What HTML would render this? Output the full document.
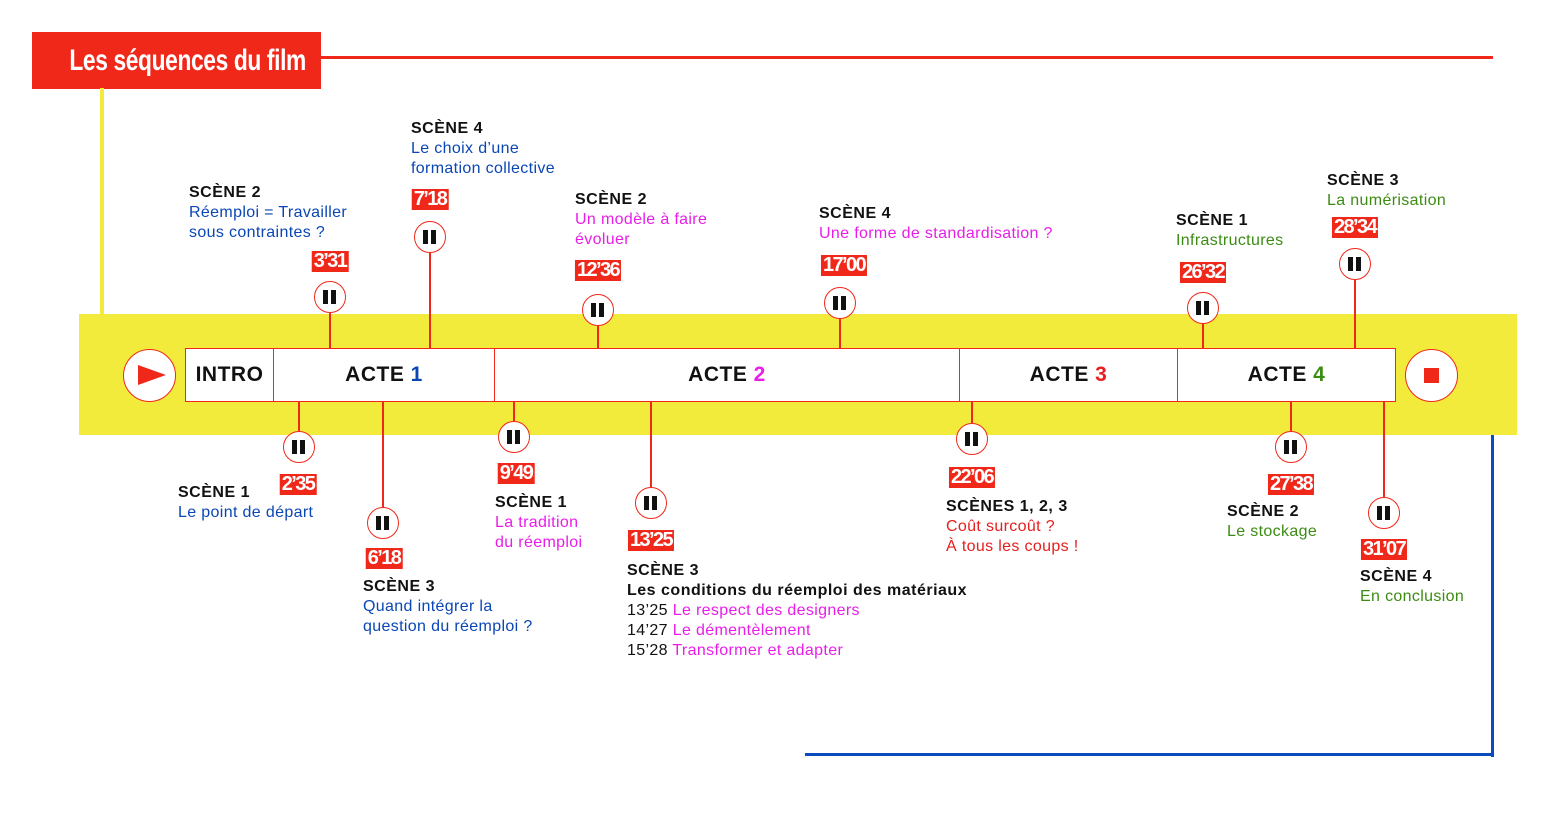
<!DOCTYPE html>
<html><head><meta charset="utf-8"><style>
body{margin:0;width:1560px;height:818px;background:#fff;position:relative;overflow:hidden;font-family:"Liberation Sans",sans-serif}
div{position:absolute;box-sizing:border-box}
.t{font-size:16px;line-height:20px;white-space:nowrap;color:#111;letter-spacing:0.35px}
.b{font-weight:bold;letter-spacing:0.5px}
.bl{color:#0a46b4}.mg{color:#e81ee8}.gr{color:#3c8c14}.rd{color:#e61e1e}
.tm{background:#f0281a;color:#fff;font-weight:bold;font-size:20px;line-height:21px;height:21px;padding:0 2px;letter-spacing:-1.6px;transform:translateX(-50%);white-space:nowrap}
.c{width:32px;height:32px;border:1.5px solid #f0281a;border-radius:50%;background:#fff;transform:translate(-50%,-50%)}
.c:before,.c:after{content:"";position:absolute;top:8px;width:5px;height:14px;background:#111}
.c:before{left:8px}.c:after{left:16px}
.vl{width:2px;background:#f0281a;transform:translateX(-1px)}
.act{top:348px;height:54px;border:1.5px solid #f0281a;background:#fff;font-weight:bold;font-size:21px;line-height:51px;text-align:center;color:#111;letter-spacing:0.5px}
</style></head><body>
<div style="left:32px;top:32px;width:289px;height:57px;background:#f0281a;color:#fff;font-weight:bold;font-size:30px;line-height:57px;text-align:center;white-space:nowrap;overflow:hidden"><span style="display:inline-block;transform:scaleX(0.76);letter-spacing:-0.5px">Les séquences du film</span></div>
<div style="left:320px;top:56px;width:1173px;height:3px;background:#f0281a"></div>
<div style="left:100px;top:88px;width:4px;height:226px;background:#f2eb3c"></div>
<div style="left:79px;top:314px;width:1438px;height:121px;background:#f2eb3c"></div>
<div style="left:1491px;top:435px;width:3px;height:322px;background:#0a4bbd"></div>
<div style="left:805px;top:753px;width:689px;height:3px;background:#0a4bbd"></div>

<div class="vl" style="left:330px;top:313px;height:35px"></div>
<div class="vl" style="left:430px;top:253px;height:95px"></div>
<div class="vl" style="left:598px;top:326px;height:22px"></div>
<div class="vl" style="left:840px;top:319px;height:29px"></div>
<div class="vl" style="left:1203px;top:324px;height:24px"></div>
<div class="vl" style="left:1355px;top:280px;height:68px"></div>
<div class="vl" style="left:299px;top:401px;height:30px"></div>
<div class="vl" style="left:383px;top:401px;height:106px"></div>
<div class="vl" style="left:514px;top:401px;height:20px"></div>
<div class="vl" style="left:651px;top:401px;height:86px"></div>
<div class="vl" style="left:972px;top:401px;height:22px"></div>
<div class="vl" style="left:1291px;top:401px;height:30px"></div>
<div class="vl" style="left:1384px;top:401px;height:96px"></div>

<div class="act" style="left:185px;width:89px">INTRO</div>
<div class="act" style="left:273px;width:222px">ACTE <span class="bl">1</span></div>
<div class="act" style="left:494px;width:466px">ACTE <span class="mg">2</span></div>
<div class="act" style="left:959px;width:219px">ACTE <span class="rd">3</span></div>
<div class="act" style="left:1177px;width:219px">ACTE <span class="gr">4</span></div>

<div style="left:123px;top:349px;width:53px;height:53px;border:1.5px solid #f0281a;border-radius:50%;background:#fff"></div>
<div style="left:138px;top:365px;width:0;height:0;border-top:10px solid transparent;border-bottom:10px solid transparent;border-left:28px solid #f0281a"></div>
<div style="left:1405px;top:349px;width:53px;height:53px;border:1.5px solid #f0281a;border-radius:50%;background:#fff"></div>
<div style="left:1424px;top:368px;width:15px;height:15px;background:#f0281a"></div>

<div class="c" style="left:330px;top:297px"></div>
<div class="c" style="left:430px;top:237px"></div>
<div class="c" style="left:598px;top:310px"></div>
<div class="c" style="left:840px;top:303px"></div>
<div class="c" style="left:1203px;top:308px"></div>
<div class="c" style="left:1355px;top:264px"></div>
<div class="c" style="left:299px;top:447px"></div>
<div class="c" style="left:383px;top:523px"></div>
<div class="c" style="left:514px;top:437px"></div>
<div class="c" style="left:651px;top:503px"></div>
<div class="c" style="left:972px;top:439px"></div>
<div class="c" style="left:1291px;top:447px"></div>
<div class="c" style="left:1384px;top:513px"></div>

<div class="tm" style="left:330px;top:251px">3’31</div>
<div class="tm" style="left:430px;top:189px">7’18</div>
<div class="tm" style="left:598px;top:260px">12’36</div>
<div class="tm" style="left:844px;top:255px">17’00</div>
<div class="tm" style="left:1203px;top:262px">26’32</div>
<div class="tm" style="left:1355px;top:217px">28’34</div>
<div class="tm" style="left:298px;top:474px">2’35</div>
<div class="tm" style="left:384px;top:548px">6’18</div>
<div class="tm" style="left:516px;top:463px">9’49</div>
<div class="tm" style="left:651px;top:530px">13’25</div>
<div class="tm" style="left:972px;top:467px">22’06</div>
<div class="tm" style="left:1291px;top:474px">27’38</div>
<div class="tm" style="left:1384px;top:539px">31’07</div>

<div class="t" style="left:189px;top:183px"><span class="b">SCÈNE 2</span><br><span class="bl">Réemploi = Travailler<br>sous contraintes ?</span></div>
<div class="t" style="left:411px;top:119px"><span class="b">SCÈNE 4</span><br><span class="bl">Le choix d’une<br>formation collective</span></div>
<div class="t" style="left:575px;top:190px"><span class="b">SCÈNE 2</span><br><span class="mg">Un modèle à faire<br>évoluer</span></div>
<div class="t" style="left:819px;top:204px"><span class="b">SCÈNE 4</span><br><span class="mg">Une forme de standardisation ?</span></div>
<div class="t" style="left:1176px;top:211px"><span class="b">SCÈNE 1</span><br><span class="gr">Infrastructures</span></div>
<div class="t" style="left:1327px;top:171px"><span class="b">SCÈNE 3</span><br><span class="gr">La numérisation</span></div>
<div class="t" style="left:178px;top:483px"><span class="b">SCÈNE 1</span><br><span class="bl">Le point de départ</span></div>
<div class="t" style="left:363px;top:577px"><span class="b">SCÈNE 3</span><br><span class="bl">Quand intégrer la<br>question du réemploi ?</span></div>
<div class="t" style="left:495px;top:493px"><span class="b">SCÈNE 1</span><br><span class="mg">La tradition<br>du réemploi</span></div>
<div class="t" style="left:627px;top:561px"><span class="b">SCÈNE 3<br>Les conditions du réemploi des matériaux</span><br>13’25 <span class="mg">Le respect des designers</span><br>14’27 <span class="mg">Le démentèlement</span><br>15’28 <span class="mg">Transformer et adapter</span></div>
<div class="t" style="left:946px;top:497px"><span class="b">SCÈNES 1, 2, 3</span><br><span class="rd">Coût surcoût ?<br>À tous les coups !</span></div>
<div class="t" style="left:1227px;top:502px"><span class="b">SCÈNE 2</span><br><span class="gr">Le stockage</span></div>
<div class="t" style="left:1360px;top:567px"><span class="b">SCÈNE 4</span><br><span class="gr">En conclusion</span></div>
</body></html>
